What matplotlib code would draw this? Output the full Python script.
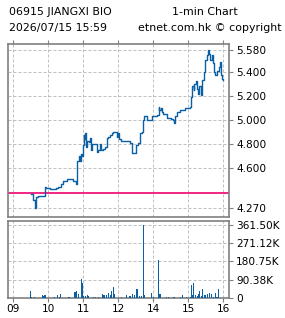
import numpy as np
import matplotlib
matplotlib.use('Agg')
import matplotlib.pyplot as plt

# 1-min price path (time, price)
price_times = ['09:30', '09:34', '09:37', '09:39', '09:42', '09:54', '09:56', '10:03', '10:14', '10:17',
               '10:21', '10:26', '10:32', '10:37', '10:43', '10:47', '10:49', '10:50', '10:52', '10:53',
               '10:55', '10:56', '10:57', '10:59', '11:01', '11:02', '11:03', '11:05', '11:07', '11:09',
               '11:11', '11:13', '11:14', '11:15', '11:21', '11:23', '11:26', '11:29', '11:30', '11:33',
               '11:37', '11:40', '11:43', '11:46', '11:49', '11:51', '11:57', '11:58', '13:00', '13:01',
               '13:04', '13:17', '13:20', '13:23', '13:29', '13:30', '13:34', '13:37', '13:40', '13:42',
               '13:44', '13:47', '13:49', '13:57', '13:58', '14:03', '14:06', '14:09', '14:10', '14:13',
               '14:15', '14:17', '14:23', '14:31', '14:34', '14:35', '14:37', '14:40', '14:46', '14:51',
               '14:54', '15:02', '15:04', '15:06', '15:09', '15:10', '15:13', '15:15', '15:17', '15:19',
               '15:21', '15:23', '15:26', '15:27', '15:29', '15:32', '15:33', '15:35', '15:37', '15:40',
               '15:42', '15:44', '15:46', '15:49', '15:51', '15:53', '15:54', '15:56', '15:58', '15:59']
prices = [4.39, 4.34, 4.27, 4.36, 4.37, 4.45, 4.44, 4.43, 4.44, 4.45,
          4.47, 4.50, 4.51, 4.51, 4.50, 4.47, 4.56, 4.66, 4.66, 4.70,
          4.66, 4.72, 4.70, 4.79, 4.88, 4.84, 4.89, 4.78, 4.83, 4.82,
          4.85, 4.80, 4.75, 4.80, 4.80, 4.74, 4.75, 4.80, 4.75, 4.76,
          4.78, 4.85, 4.86, 4.88, 4.89, 4.90, 4.90, 4.86, 4.89, 4.84,
          4.83, 4.83, 4.81, 4.73, 4.73, 4.79, 4.81, 4.89, 4.90, 5.00,
          5.03, 5.03, 5.00, 5.00, 5.03, 5.03, 5.04, 5.11, 5.08, 5.10,
          5.07, 5.05, 5.02, 5.01, 5.00, 4.98, 5.03, 5.07, 5.08, 5.08,
          5.10, 5.11, 5.19, 5.28, 5.25, 5.30, 5.32, 5.26, 5.22, 5.28,
          5.21, 5.33, 5.36, 5.40, 5.50, 5.54, 5.58, 5.55, 5.50, 5.54,
          5.47, 5.40, 5.37, 5.41, 5.41, 5.44, 5.48, 5.37, 5.34, 5.33]
prev_close = 4.40

# volume per minute, in thousands
vol_times = ['09:30', '09:31', '09:32', '09:36', '09:50', '09:51', '09:53', '09:55', '09:56', '10:10',
             '10:15', '10:19', '10:21', '10:34', '10:37', '10:45', '10:46', '10:47', '10:49', '10:51',
             '10:57', '10:59', '11:01', '11:03', '11:04', '11:07', '11:09', '11:17', '11:21', '11:26',
             '11:33', '11:35', '11:37', '11:40', '11:43', '11:46', '11:49', '11:51', '11:53', '13:06',
             '13:14', '13:20', '13:25', '13:27', '13:32', '13:37', '13:40', '13:43', '13:45', '13:57',
             '14:00', '14:09', '14:11', '14:13', '14:23', '14:26', '14:34', '14:36', '14:46', '14:50',
             '14:57', '15:03', '15:05', '15:07', '15:09', '15:13', '15:15', '15:17', '15:19', '15:22',
             '15:24', '15:27', '15:29', '15:32', '15:36', '15:40', '15:43', '15:47', '15:49', '15:51',
             '15:52']
volumes = [33, 6, 5, 4, 12, 9, 12, 16, 10, 6,
           12, 6, 17, 5, 6, 27, 30, 27, 33, 20,
           93, 72, 10, 9, 9, 12, 8, 5, 5, 6,
           20, 12, 12, 15, 25, 12, 32, 55, 18, 6,
           12, 8, 18, 12, 43, 8, 9, 361.5, 12, 25,
           5, 187, 18, 18, 4, 4, 5, 5, 4, 12,
           4, 4, 63, 12, 73, 12, 10, 17, 33, 8,
           43, 12, 12, 17, 25, 17, 5, 25, 6, 43,
           27]

hour_ticks = ['09:00', '10:00', '11:00', '12:00', '14:00', '15:00', '16:00']
hour_labels = ['09', '10', '11', '12', '14', '15', '16']
price_ticks = [4.27, 4.60, 4.80, 5.00, 5.20, 5.40, 5.58]


def to_x(t):
    # trading-time axis, lunch break (12:00-13:00) removed
    h, m = map(int, t.split(':'))
    if h >= 13:
        h -= 1
    return h + m / 60.0


px = np.array([to_x(t) for t in price_times])
vx = np.array([to_x(t) for t in vol_times])
hx = [to_x(t) for t in hour_ticks]

blue = '#0a5fa5'
frame = '#808080'
gridc = '#c0c0c0'
fs = 7.6

fig = plt.figure(figsize=(2.85, 3.18), dpi=100, facecolor='white')
ax1 = fig.add_axes([8 / 285, 1 - 217 / 318, 221 / 285, 173 / 318])
ax2 = fig.add_axes([8 / 285, 1 - 298 / 318, 221 / 285, 77 / 318])

xmin, xmax = 8.85, 15.16

# price panel
ax1.plot(px, prices, color=blue, lw=1.0, drawstyle='steps-post', zorder=3)
ax1.axhline(prev_close, color='#f0147a', lw=1.3, zorder=2)
ax1.set_xlim(xmin, xmax)
ax1.set_ylim(4.198, 5.63)
ax1.set_xticks(hx)
ax1.set_yticks(price_ticks)
ax1.set_yticklabels(['%.3f' % v for v in price_ticks])
ax1.yaxis.tick_right()
ax1.tick_params(axis='y', direction='out', length=3, width=0.8, color=frame, labelsize=fs, pad=2)
ax1.tick_params(axis='x', top=True, bottom=False, labeltop=False, labelbottom=False,
                direction='out', length=3, width=0.8, color=frame)
ax1.grid(True, color=gridc, linestyle=(0, (3, 2)), linewidth=0.72)

# volume panel
ax2.bar(vx, volumes, width=1.8 / 60, color=blue, linewidth=0, antialiased=False,
        align='center', zorder=3)
vmax = max(volumes)
vticks = [vmax * i / 4 for i in range(5)]
ax2.set_xlim(xmin, xmax)
ax2.set_ylim(-1, vmax * 1.055)
ax2.set_xticks(hx)
ax2.set_xticklabels(hour_labels)
ax2.set_yticks(vticks)
ax2.set_yticklabels(['0'] + ['%.2fK' % v for v in vticks[1:]])
ax2.yaxis.tick_right()
ax2.tick_params(axis='y', direction='out', length=3, width=0.8, color=frame, labelsize=fs, pad=2)
ax2.tick_params(axis='x', direction='out', length=3, width=0.8, color=frame, labelsize=fs, pad=1.5)
ax2.grid(True, color=gridc, linestyle=(0, (3, 2)), linewidth=0.72)

for ax in (ax1, ax2):
    ax.set_axisbelow(True)
    for s in ax.spines.values():
        s.set_color(frame)
        s.set_linewidth(1.2)

fig.text(9 / 285, 1 - 12 / 318, '06915 JIANGXI BIO', fontsize=fs + 0.3, va='center', ha='left')
fig.text(172 / 285, 1 - 12 / 318, '1-min Chart', fontsize=fs + 0.3, va='center', ha='left')
fig.text(9 / 285, 1 - 28 / 318, '2026/07/15 15:59', fontsize=fs + 0.3, va='center', ha='left')
fig.text(138 / 285, 1 - 28 / 318, 'etnet.com.hk \u00a9 copyright', fontsize=fs + 0.3, va='center', ha='left')

fig.savefig('out.png', dpi=100, facecolor='white')
